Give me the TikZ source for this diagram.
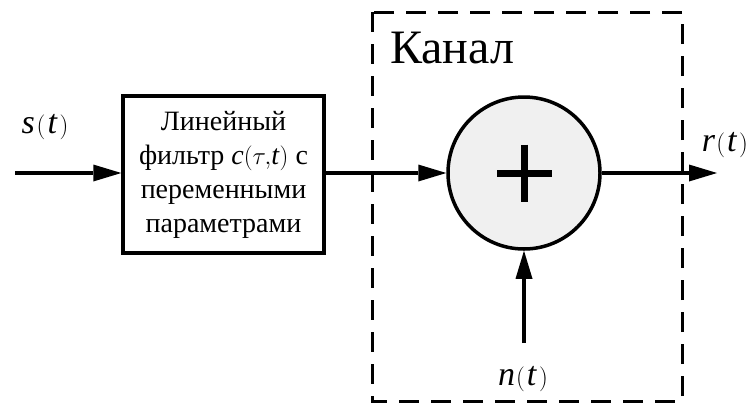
\documentclass[tikz,border=0pt]{standalone}
\usepackage{fontspec}
\setmainfont{Liberation Serif}
% solid triangular arrow tip, 28pt long and 17pt wide
\pgfarrowsdeclare{bigtri}{bigtri}
  {\pgfarrowsleftextend{0pt}\pgfarrowsrightextend{28pt}}
  {\pgfsetdash{}{0pt}
   \pgfpathmoveto{\pgfqpoint{28pt}{0pt}}
   \pgfpathlineto{\pgfqpoint{0pt}{8.5pt}}
   \pgfpathlineto{\pgfqpoint{0pt}{-8.5pt}}
   \pgfpathclose
   \pgfusepathqfill}
% brackets and separators are taken from the math fonts
\newcommand{\lpar}{\ensuremath{(}}
\newcommand{\rpar}{\ensuremath{)}}
\begin{document}
\begin{tikzpicture}[x=1pt,y=-1pt,
  wire/.style={line width=3.5pt},
  sig/.style={wire,-bigtri},
  mathlbl/.style={inner sep=0pt,font=\fontsize{34}{34}\selectfont},
  blockbox/.style={draw,line width=3.5pt,inner sep=0pt,align=center,
    minimum width=201pt,minimum height=157pt,font=\fontsize{28}{34}\selectfont},
  adder/.style={circle,draw,line width=3.5pt,inner sep=0pt,minimum size=152pt,
    fill=black!6}]
\useasboundingbox (0,0) rectangle (755,405);

% channel boundary
\draw[line width=3pt,dash pattern=on 20pt off 12pt] (372,12) rectangle (682,401);
\node[anchor=base west,inner sep=0pt,font=\fontsize{48}{48}\selectfont] (kanal) at (390,63) {Канал};

% blocks
\node[blockbox] (filt) at (223.5,174.5)
  {Линейный\\фильтр \textit{c}\lpar$\tau,$\textit{t}\rpar{} с\\переменными\\параметрами};
\node[adder] (sum) at (524,173) {};
\draw[line width=7pt] ([xshift=-27pt]sum.center) -- ([xshift=28pt]sum.center);
\draw[line width=7pt] ([yshift=28.5pt]sum.center) -- ([yshift=-28.5pt]sum.center);

% signal paths
\coordinate (sin) at (15,173);
\coordinate (rout) at (717,173);
\coordinate (nin) at (524,343);
\draw[sig] (sin) -- (sin -| filt.west);
\draw[sig] (filt.east |- sum) -- (sum.west);
\draw[sig] (sum.east) -- (rout);
\draw[sig] (nin) -- (sum.south);

% labels
\node[mathlbl] (slbl) at (45,127) {\textit{s}\kern2pt\lpar\kern2pt\textit{t}\kern2pt\rpar};
\node[mathlbl] (rlbl) at (725,145) {\textit{r}\kern1pt\lpar\kern2pt\textit{t}\kern2pt\rpar};
\node[mathlbl] (nlbl) at (523,379) {\textit{n}\kern1pt\lpar\kern2pt\textit{t}\kern2pt\rpar};
\end{tikzpicture}
\end{document}
